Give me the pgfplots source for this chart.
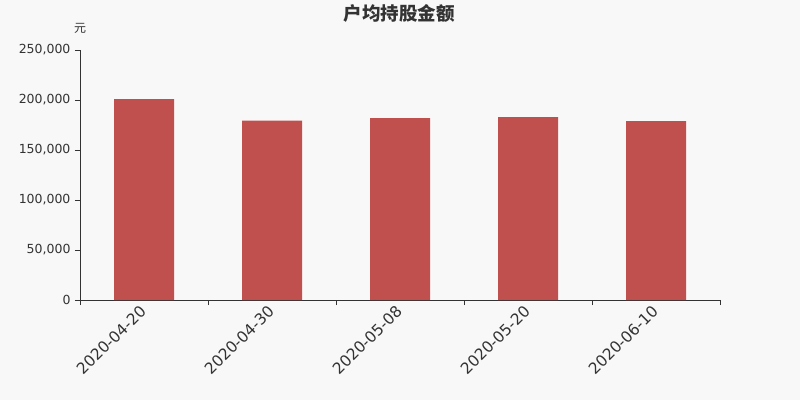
\documentclass[border=0pt]{standalone}
\usepackage{fontspec}
\setmainfont{DejaVu Sans}
\newfontfamily\cjk{Noto Sans CJK SC}
\usepackage{pgfplots}
\pgfplotsset{compat=1.18}
\definecolor{bg}{HTML}{F8F8F8}
\definecolor{barred}{HTML}{C0504D}
\definecolor{ink}{HTML}{333333}

\begin{document}
\begin{tikzpicture}[x=1pt,y=1pt]
\useasboundingbox (0,0) rectangle (800,400);
\fill[bg] (0,0) rectangle (800,400);
\node[font=\cjk\bfseries\fontsize{18.5}{20}\selectfont, text=ink] at (399,387) {户均持股金额};
\node[font=\cjk\fontsize{12}{14}\selectfont, text=ink] at (80,372) {元};
\begin{axis}[
  at={(80pt,100pt)}, anchor=south west,
  scale only axis, width=640pt, height=250pt,
  xmin=-0.5, xmax=4.5, ymin=0, ymax=250000,
  axis x line=bottom, axis y line=left,
  axis line style={ink, -, line width=0.8pt},
  xtick={0,1,2,3,4},
  xticklabels={2020-04-20,2020-04-30,2020-05-08,2020-05-20,2020-06-10},
  minor xtick={-0.5,0.5,1.5,2.5,3.5,4.5},
  major x tick style={draw=none},
  minor x tick style={ink, line width=0.8pt},
  ytick={0,50000,100000,150000,200000,250000},
  yticklabels={0,{50,000},{100,000},{150,000},{200,000},{250,000}},
  y tick style={ink, line width=0.8pt},
  tick align=outside,
  major tick length=5pt, minor tick length=5pt,
  scaled y ticks=false,
  y tick label style={font=\fontsize{12.5}{14}\selectfont, text=ink, xshift=-1pt},
  x tick label style={rotate=45, anchor=east, font=\fontsize{15.5}{18}\selectfont, text=ink, xshift=1pt, yshift=-2pt},
  ybar, bar width=60pt,
  clip=false,
]
\addplot[fill=barred, draw=none] coordinates {
  (0,201000) (1,179500) (2,182000) (3,183000) (4,179000)
};
\end{axis}
\end{tikzpicture}
\end{document}
